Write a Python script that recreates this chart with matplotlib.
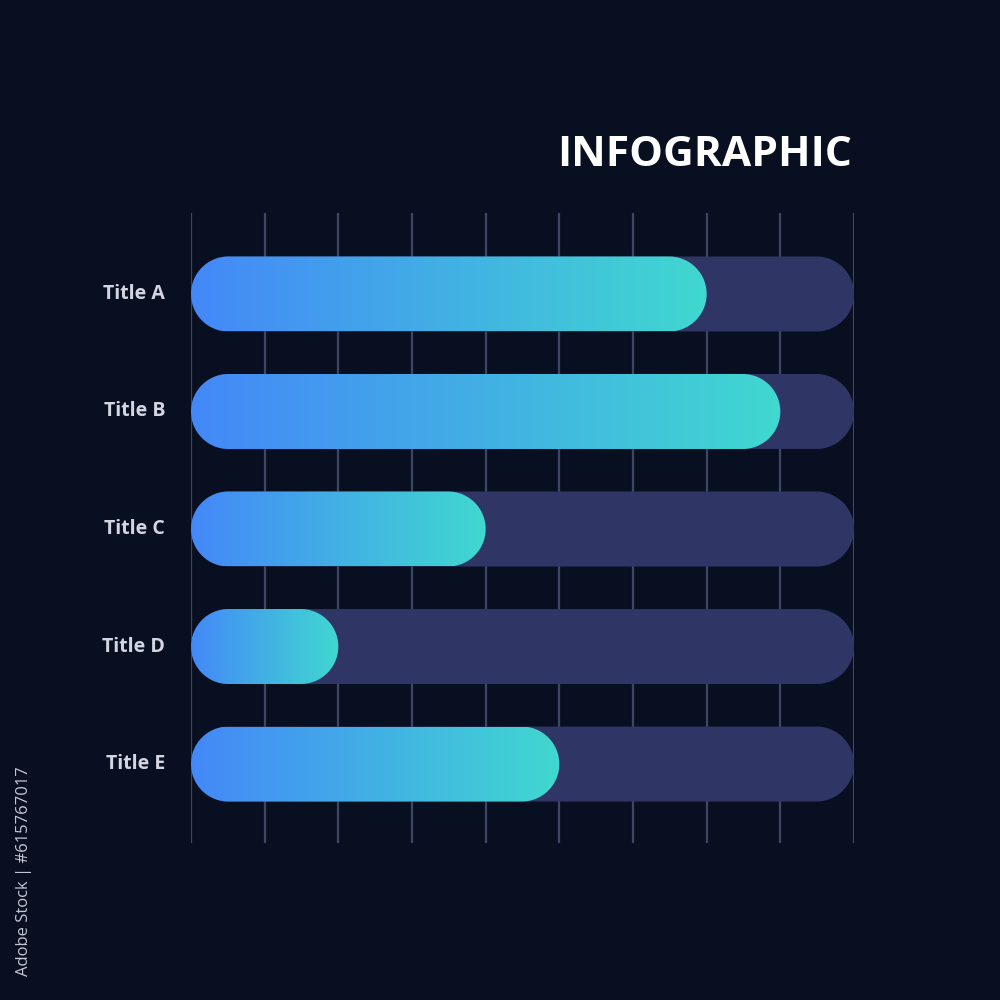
import numpy as np
import matplotlib.pyplot as plt
from matplotlib.patches import Polygon
from matplotlib.colors import LinearSegmentedColormap

categories = ['Title A', 'Title B', 'Title C', 'Title D', 'Title E']
values = [7, 8, 4, 2, 5]
scale_max = 9
grid_ticks = list(range(0, scale_max + 1))

bg = '#080f20'
track_color = '#2f3564'
grid_color = '#3d4765'
label_color = '#d3d6e2'
grad = LinearSegmentedColormap.from_list('bar', ['#4488f8', '#40d8d0'])

fig = plt.figure(figsize=(10, 10), dpi=100, facecolor=bg)

# axes spans pixel x 191..854, y 213..843
ylim = (4.672, -0.689)
ax = fig.add_axes([0.191, 0.157, 0.663, 0.630])
ax.set_facecolor(bg)
for s in ax.spines.values():
    s.set_visible(False)
ax.set_xticks([])
ax.set_yticks([])

for t in grid_ticks:
    ax.axvline(t, color=grid_color, lw=1.6, zorder=1)

# pixels per data unit
px_x = 663 / scale_max
px_y = 630 / (ylim[0] - ylim[1])
bar_h = 75 / px_y
rx = 37.5 / px_x
ry = bar_h / 2


def pill(x0, x1, yc, **kw):
    th_r = np.linspace(-np.pi / 2, np.pi / 2, 60)
    th_l = np.linspace(np.pi / 2, 3 * np.pi / 2, 60)
    xs = np.concatenate([x1 - rx + rx * np.cos(th_r), x0 + rx + rx * np.cos(th_l)])
    ys = np.concatenate([yc + ry * np.sin(th_r), yc + ry * np.sin(th_l)])
    return Polygon(np.column_stack([xs, ys]), closed=True, linewidth=0, **kw)


gradient = np.linspace(0, 1, 256).reshape(1, -1)
for i, (cat, v) in enumerate(zip(categories, values)):
    track = pill(0, scale_max, i, facecolor=track_color, zorder=2)
    ax.add_patch(track)

    bar = pill(0, v, i, facecolor='none', zorder=3)
    ax.add_patch(bar)
    im = ax.imshow(gradient, cmap=grad, aspect='auto', zorder=3,
                   extent=[0, v, i + bar_h / 2, i - bar_h / 2])
    im.set_clip_path(bar)

    ax.text(-0.35, i, cat, ha='right', va='center', color=label_color,
            fontsize=14, fontweight='bold', family='Open Sans')

ax.set_xlim(0, scale_max)
ax.set_ylim(*ylim)

fig.text(0.852, 0.845, 'INFOGRAPHIC', ha='right', va='center', color='white',
         fontsize=30.6, fontweight='bold', family='Open Sans')

fig.text(0.024, 0.234, 'Adobe Stock | #615767017', rotation=90, ha='center',
         va='top', color='#c4c8d4', fontsize=12, family='Open Sans')

fig.savefig('out.png', dpi=100, facecolor=bg)
